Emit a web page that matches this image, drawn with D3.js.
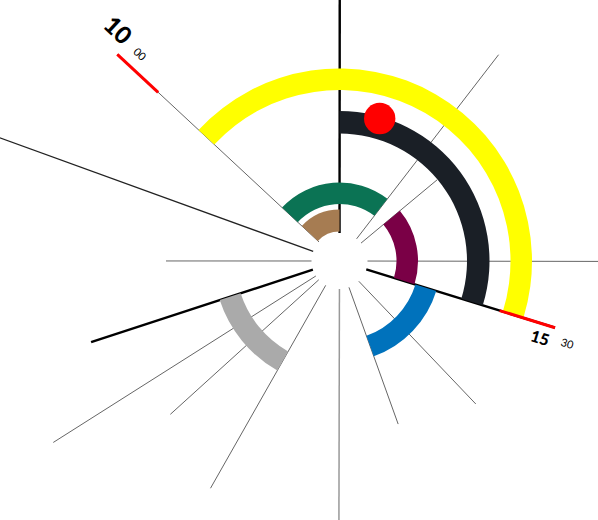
<!DOCTYPE html>
<html>
<head>
<meta charset="utf-8">
<script src="https://cdn.jsdelivr.net/npm/d3@7"></script>
<style>
  html, body { margin: 0; padding: 0; background: #fff; }
  svg { display: block; }
</style>
</head>
<body>
<svg id="chart" width="598" height="520"></svg>
<script>
// ---- data (hours of day, radial extents) ----
const lineHours   = [8.47, 9.18, 10, 11.68, 13.02, 13.47, 14.89, 15.5, 16.54, 17.39, 18.10, 19.15, 19.80, 20.15, 20.66];
const lineLengths = [173.5, 380, 303.5, 300, 260.5, 127, 280, 225.6, 197.5, 173.3, 280, 261.3, 228.3, 338.9, 261.3];
const lineKinds   = ["minor","mid","minor","major","minor","minor","minor","major","minor","minor","soft","minor","minor","minor","major"];

const arcNames  = ["brown","green","maroon","blue","gray","dark","yellow"];
const arcStart  = [10, 10, 13.47, 15.5, 19.15, 11.68, 10];
const arcEnd    = [11.68, 13.02, 15.5, 17.39, 20.66, 15.5, 15.5];
const arcInner  = [29.5, 57, 57, 79.5, 104, 127.5, 171];
const arcOuter  = [51.5, 78.5, 78.5, 101.3, 126, 150, 192.5];

const markerHours = [10, 15.5];
const markerFrom  = [247.7, 167.6];
const markerTo    = [303.5, 225.6];

const dotHour = 12.24;
const dotRadius = 148;

const tickHours = [10, 15.5];
const tickMajor = ["10", "15"];
const tickMinor = ["00", "30"];

// ---- styles ----
const arcColors = {brown:"#a67c52", green:"#0b7354", maroon:"#7a0046", blue:"#0072bc", gray:"#aaaaaa", dark:"#1a1f26", yellow:"#ffff00"};
const lineStyle = {
  major: {stroke:"#000", width:2.4},
  mid:   {stroke:"#222", width:1.3},
  minor: {stroke:"#666", width:1},
  soft:  {stroke:"#999", width:1.5}
};
const majorFont = [24, 16];
const majorOffset = [-19, 13.5];
const minorOffset = [-16, 11];
const innerR = 28;

const svg = d3.select("#chart");
const g = svg.append("g").attr("transform", "translate(339.5,261)");

const angle = d3.scaleLinear().domain([10, 15.5]).range([-47.07, 107.2].map(d => d * Math.PI / 180));
const radius = d3.scaleLinear().domain([0, 400]).range([0, 400]);

const px = (a, r) => r * Math.sin(a);
const py = (a, r) => -r * Math.cos(a);

// radial lines
const lines = lineHours.map((h, i) => ({h, len: lineLengths[i], kind: lineKinds[i]}));
g.append("g").selectAll("line").data(lines).join("line")
  .attr("x1", d => px(angle(d.h), radius(innerR)))
  .attr("y1", d => py(angle(d.h), radius(innerR)))
  .attr("x2", d => px(angle(d.h), radius(d.len)))
  .attr("y2", d => py(angle(d.h), radius(d.len)))
  .attr("stroke", d => lineStyle[d.kind].stroke)
  .attr("stroke-width", d => lineStyle[d.kind].width);

// arcs
const arcs = arcNames.map((n, i) => ({n, s: arcStart[i], e: arcEnd[i], r0: arcInner[i], r1: arcOuter[i]}));
const arcGen = d3.arc()
  .innerRadius(d => radius(d.r0)).outerRadius(d => radius(d.r1))
  .startAngle(d => angle(d.s)).endAngle(d => angle(d.e));
g.append("g").selectAll("path").data(arcs).join("path")
  .attr("d", arcGen)
  .attr("fill", d => arcColors[d.n]);

// red hand markers
const markers = markerHours.map((h, i) => ({h, r0: markerFrom[i], r1: markerTo[i]}));
g.append("g").selectAll("line").data(markers).join("line")
  .attr("x1", d => px(angle(d.h), radius(d.r0)))
  .attr("y1", d => py(angle(d.h), radius(d.r0)))
  .attr("x2", d => px(angle(d.h), radius(d.r1)))
  .attr("y2", d => py(angle(d.h), radius(d.r1)))
  .attr("stroke", "#ff0000")
  .attr("stroke-width", 3);

// red dot
g.append("circle")
  .attr("cx", px(angle(dotHour), radius(dotRadius)))
  .attr("cy", py(angle(dotHour), radius(dotRadius)))
  .attr("r", 15.7)
  .attr("fill", "#ff0000");

// tick labels
const ticks = tickHours.map((h, i) => ({h, i, big: tickMajor[i], small: tickMinor[i], end: markerTo[i]}));
const tg = g.append("g").selectAll("g").data(ticks).join("g")
  .attr("transform", d => {
    const a = angle(d.h);
    const deg = a * 180 / Math.PI;
    const right = Math.sin(a) > 0;
    const rot = right ? deg - 90 : deg + 90;
    return `translate(${px(a, radius(d.end))},${py(a, radius(d.end))}) rotate(${rot})`;
  });
tg.append("text")
  .attr("x", -2)
  .attr("y", d => majorOffset[d.i])
  .attr("text-anchor", "end")
  .attr("dominant-baseline", "central")
  .attr("font-family", "Lato, 'Open Sans', sans-serif")
  .attr("font-weight", 900)
  .attr("font-size", d => majorFont[d.i])
  .attr("fill", "#000")
  .text(d => d.big);
tg.append("text")
  .attr("x", 10)
  .attr("y", d => minorOffset[d.i])
  .attr("text-anchor", "start")
  .attr("dominant-baseline", "central")
  .attr("font-family", "Lato, 'Open Sans', sans-serif")
  .attr("font-size", 11)
  .attr("fill", "#000")
  .text(d => d.small);
</script>
</body>
</html>
